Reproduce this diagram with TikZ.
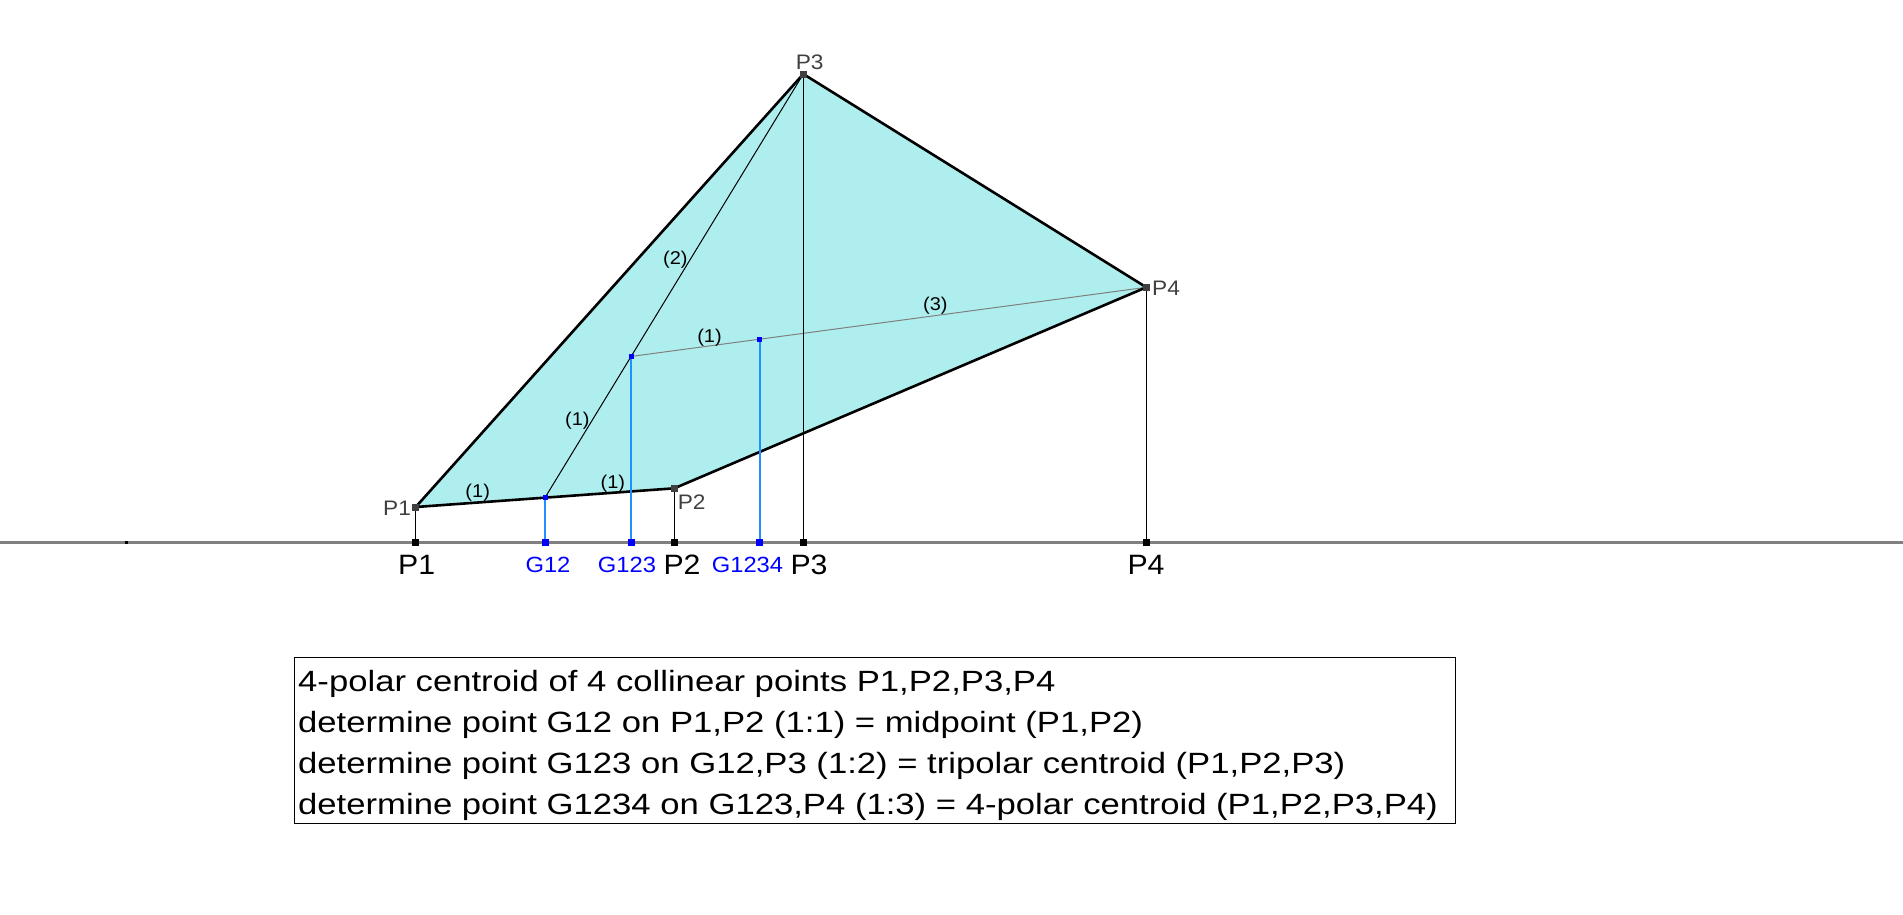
\documentclass[tikz,border=0pt]{standalone}
\usepackage{fontspec}
\usetikzlibrary{calc}
\setmainfont{Liberation Sans}
\newfontfamily\boxfont[FakeStretch=1.183]{Liberation Sans}
\newfontfamily\labfont[FakeStretch=1.08]{Liberation Sans}
\definecolor{fillc}{RGB}{175,238,238}
\definecolor{gline}{RGB}{30,144,255}
\definecolor{gblue}{RGB}{0,0,255}
\definecolor{ptgray}{RGB}{64,64,64}
\definecolor{axgray}{RGB}{128,128,128}
\begin{document}
\begin{tikzpicture}[x=1pt,y=-1pt,
  axmk/.style={fill=black,draw=none,inner sep=0pt,minimum size=7pt},
  pmk/.style={fill=ptgray,draw=none,inner sep=0pt,minimum size=7pt},
  gmk/.style={fill=gblue,draw=none,inner sep=0pt,minimum size=7pt},
  gsm/.style={fill=gblue,draw=none,inner sep=0pt,minimum size=5pt},
  edgeline/.style={line width=2.6pt,line join=round,line cap=round},
  thinline/.style={line width=1pt},
  gvert/.style={gline,line width=1.3pt},
  pvert/.style={black,line width=1.2pt},
  ptlab/.style={text=ptgray,inner sep=0pt,font=\labfont\fontsize{21}{21}\selectfont},
  axlab/.style={text=black,inner sep=0pt,font=\labfont\fontsize{28}{28}\selectfont},
  glab/.style={text=gblue,inner sep=0pt,font=\labfont\fontsize{22}{22}\selectfont},
  ratio/.style={text=black,inner sep=0pt,font=\labfont\fontsize{18.5}{18.5}\selectfont},
  boxline/.style={anchor=base west,inner sep=0pt,font=\boxfont\fontsize{29.3}{40}\selectfont}
]
\useasboundingbox (0,0) rectangle (1903,914);
% points
\coordinate (P1) at (415.7,507);
\coordinate (P2) at (674.3,488.3);
\coordinate (P3) at (803.3,74);
\coordinate (P4) at (1146.3,287.3);
\coordinate (G12) at ($(P1)!0.5!(P2)$);
\coordinate (G123) at ($(G12)!0.333333!(P3)$);
\coordinate (G1234) at ($(G123)!0.25!(P4)$);
\coordinate (axL) at (0,542.3);
\coordinate (axR) at (1903,542.3);
\coordinate (A1) at (P1 |- axL);
\coordinate (A2) at (P2 |- axL);
\coordinate (A3) at (P3 |- axL);
\coordinate (A4) at (P4 |- axL);
\coordinate (B12) at (G12 |- axL);
\coordinate (B123) at (G123 |- axL);
\coordinate (B1234) at (G1234 |- axL);
% filled quadrilateral
\fill[fillc] (P1) -- (P2) -- (P4) -- (P3) -- cycle;
% construction lines
\draw[thinline,black] (G12) -- (P3);
\draw[thinline,axgray] (G123) -- (P4);
% edges
\draw[edgeline] (P1) -- (P2) -- (P4) -- (P3) -- cycle;
% verticals
\draw[pvert] (P1) -- (A1);
\draw[pvert] (P2) -- (A2);
\draw[pvert] (P3) -- (A3);
\draw[pvert] (P4) -- (A4);
\draw[gvert] (G12) -- (B12);
\draw[gvert] (G123) -- (B123);
\draw[gvert] (G1234) -- (B1234);
% axis
\draw[axgray,line width=3pt] (axL) -- (axR);
\node[fill=black,inner sep=0pt,minimum size=3pt] (orig) at (126.7,542.3) {};
% markers
\node[pmk] (mP1) at (P1) {};
\node[pmk] (mP2) at (P2) {};
\node[pmk] (mP3) at (P3) {};
\node[pmk] (mP4) at (P4) {};
\node[gsm] (mG12) at (G12) {};
\node[gsm] (mG123) at (G123) {};
\node[gsm] (mG1234) at (G1234) {};
\node[axmk] (mA1) at (A1) {};
\node[axmk] (mA2) at (A2) {};
\node[axmk] (mA3) at (A3) {};
\node[axmk] (mA4) at (A4) {};
\node[gmk] (mB12) at (B12) {};
\node[gmk] (mB123) at (B123) {};
\node[gmk] (mB1234) at (B1234) {};
% point labels
\node[ptlab] (lP1) at (397,508.5) {P1};
\node[ptlab] (lP2) at (691.7,502) {P2};
\node[ptlab] (lP3) at (809.7,62.5) {P3};
\node[ptlab] (lP4) at (1166,288) {P4};
% axis labels
\node[axlab] (aP1) at (416.7,565) {P1};
\node[axlab] (aP2) at (682,565) {P2};
\node[axlab] (aP3) at (809,565) {P3};
\node[axlab] (aP4) at (1146,565) {P4};
\node[glab] (aG12) at (548,564.5) {G12};
\node[glab] (aG123) at (627,564.5) {G123};
\node[glab] (aG1234) at (747.5,564.5) {G1234};
% ratio labels
\node[ratio] (r1) at (477.7,493) {(1)};
\node[ratio] (r2) at (612.8,483.3) {(1)};
\node[ratio] (r3) at (577.3,420.5) {(1)};
\node[ratio] (r4) at (675.3,259.5) {(2)};
\node[ratio] (r5) at (709.5,337.5) {(1)};
\node[ratio] (r6) at (935.3,305.8) {(3)};
% text box
\node[draw=black,line width=1pt,anchor=north west,inner sep=0pt,minimum width=1161pt,minimum height=166pt] (box) at (294,656.5) {};
\node[boxline] (t1) at (298,691) {4-polar centroid of 4 collinear points P1,P2,P3,P4};
\node[boxline] (t2) at (298,732) {determine point G12 on P1,P2 (1:1) = midpoint (P1,P2)};
\node[boxline] (t3) at (298,773) {determine point G123 on G12,P3 (1:2) = tripolar centroid (P1,P2,P3)};
\node[boxline] (t4) at (298,814) {determine point G1234 on G123,P4 (1:3) = 4-polar centroid (P1,P2,P3,P4)};
\end{tikzpicture}
\end{document}
